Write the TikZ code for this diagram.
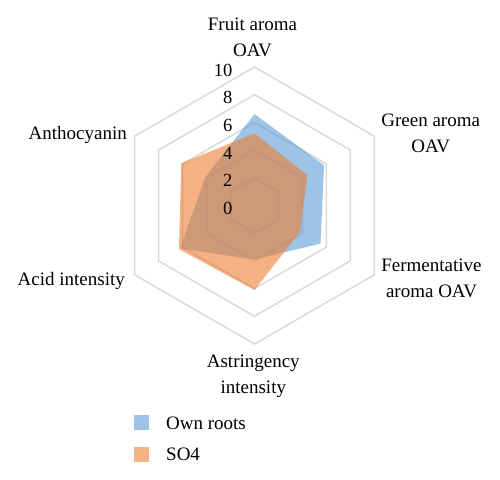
\documentclass[tikz,border=0pt]{standalone}
\usepackage{fontspec}
\setmainfont{Liberation Serif}
\definecolor{ringgray}{RGB}{217,217,217}
\definecolor{ownblue}{RGB}{91,155,213}
\definecolor{soorange}{RGB}{237,125,49}
\tikzset{
  ringline/.style={draw=ringgray, line width=1.5pt, line join=miter},
  ownfill/.style={fill=ownblue, fill opacity=0.6},
  sofill/.style={fill=soorange, fill opacity=0.6},
  axislabel/.style={font=\fontsize{19}{26}\selectfont, inner sep=0pt, align=center},
  ticklabel/.style={font=\fontsize{18.5}{22}\selectfont, inner sep=0pt, anchor=east},
  legendbox/.style={minimum width=15pt, minimum height=15pt, inner sep=0pt},
}
\begin{document}
\begin{tikzpicture}[x=1pt,y=-1pt]
\path[use as bounding box] (0,0) rectangle (500,479);
\begin{scope}[shift={(254.5,205.5)}, x=13.85pt, y=13.85pt]
  \coordinate (c) at (0,0);
  \foreach \r in {2,4,6,8,10}{
    \draw[ringline] (90:\r) -- (30:\r) -- (-30:\r) -- (-90:\r) -- (-150:\r) -- (150:\r) -- cycle;
  }
  \path[ownfill] (90:6.6) -- (30:5.8) -- (-30:5.5) -- (-90:3.9) -- (-150:6.2) -- (150:4.1) -- cycle;
  \path[sofill] (90:5.2) -- (30:4.4) -- (-30:3.8) -- (-90:6.1) -- (-150:6.3) -- (150:6.1) -- cycle;
  \foreach \r in {0,2,4,6,8,10}{
    \node[ticklabel] (t\r) at ([xshift=-22pt,yshift=-3pt]90:\r) {\r};
  }
\end{scope}
\node[axislabel, anchor=north] (fruit) at (252.5,17.7) {Fruit aroma\\OAV};
\node[axislabel, anchor=north] (green) at (430.7,114) {Green aroma\\OAV};
\node[axislabel, anchor=north] (ferm) at (431.5,258.7) {Fermentative\\aroma OAV};
\node[axislabel, anchor=north] (astr) at (253.3,355) {Astringency\\intensity};
\node[axislabel, anchor=base east] (acid) at (125,285) {Acid intensity};
\node[axislabel, anchor=base east] (antho) at (127,139) {Anthocyanin};
\node[legendbox, ownfill] (lgown) at (141.8,422.5) {};
\node[legendbox, sofill] (lgso) at (141.8,454) {};
\node[axislabel, anchor=base west] (lgowntext) at (166,429) {Own roots};
\node[axislabel, anchor=base west] (lgsotext) at (166,460) {SO4};
\end{tikzpicture}
\end{document}
